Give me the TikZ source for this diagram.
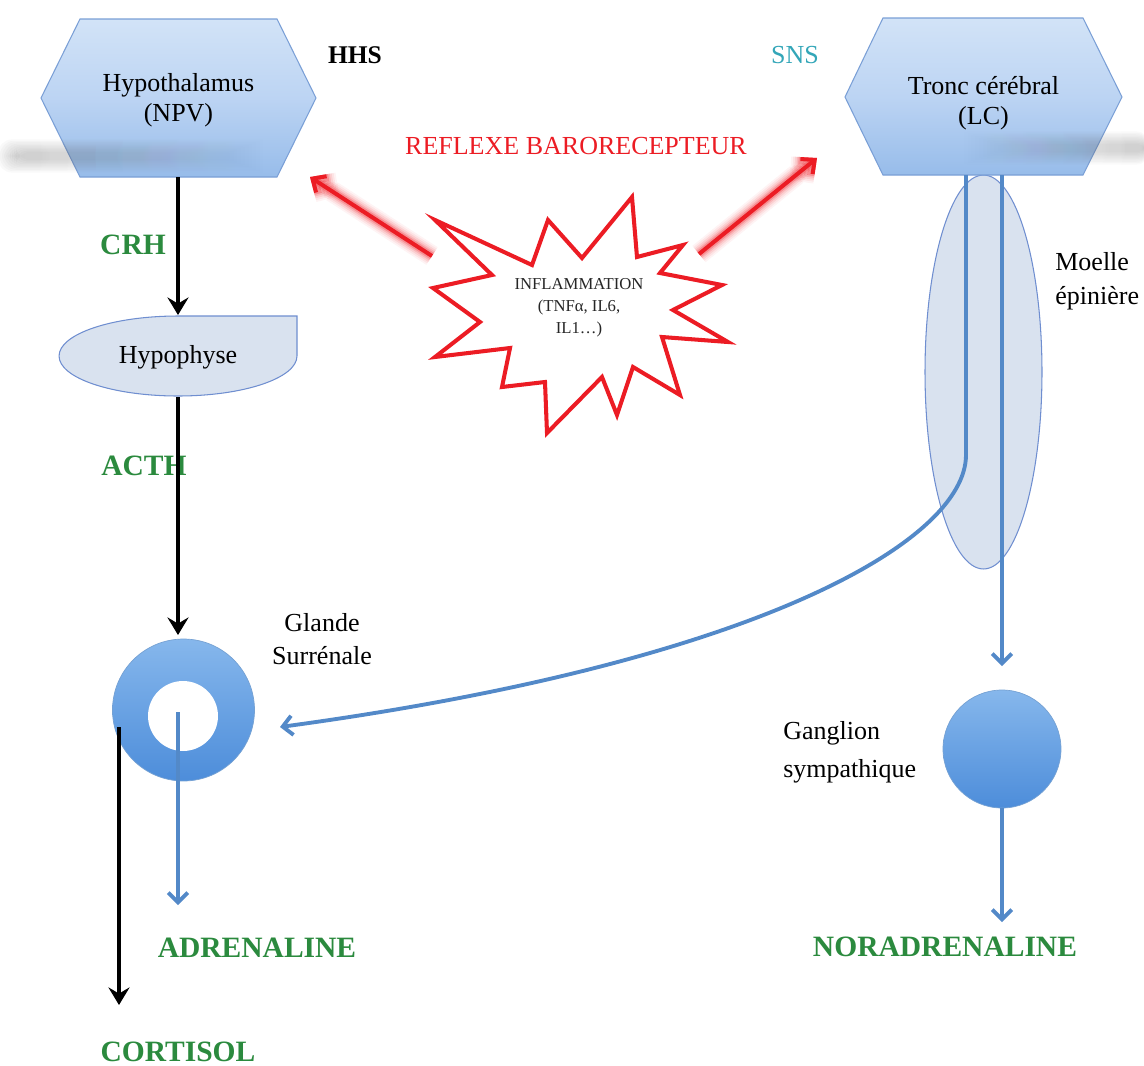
\documentclass[tikz,border=0pt]{standalone}
\usepackage{fontspec}
\setmainfont{Liberation Serif}
\usetikzlibrary{arrows.meta,fadings}
\definecolor{hexT}{HTML}{D2E3F7}
\definecolor{hexM}{HTML}{BCD4F3}
\definecolor{hexB}{HTML}{97BCEA}
\definecolor{hexD}{HTML}{7A9FD6}
\definecolor{pale}{HTML}{D9E2EF}
\definecolor{paleD}{HTML}{6F8ED0}
\definecolor{cblue}{HTML}{5389C8}
\definecolor{ringT}{HTML}{86B7EC}
\definecolor{ringB}{HTML}{4D8DDA}
\definecolor{cgreen}{HTML}{2B8A3E}
\definecolor{cred}{HTML}{EC1C24}
\definecolor{cteal}{HTML}{33A6B8}
\tikzfading[name=fadeR, left color=transparent!0, right color=transparent!100]
\tikzfading[name=fadeL, left color=transparent!100, right color=transparent!0]
\begin{document}
\begin{tikzpicture}[x=0.02cm,y=-0.02cm,
  lbl/.style={font=\fontsize{14.8}{17}\selectfont, align=center, inner sep=0pt},
  grn/.style={font=\fontsize{16.8}{18}\selectfont\bfseries, text=cgreen, inner sep=0pt},
  hexa/.style={draw=hexD, line width=0.6pt, top color=hexT, bottom color=hexB, middle color=hexM},
  blk/.style={line width=2.8pt, -{Stealth[length=10pt,width=12pt,inset=3.5pt]}},
  blu/.style={line width=2.2pt, draw=cblue, -{Straight Barb[length=5.5pt,width=11pt]}},
  redarr/.style={draw=cred, line width=2.3pt, -{Straight Barb[length=6pt,width=11pt]}},
  glow/.style={draw=cred, -{Straight Barb[length=6pt,width=11pt]}},
  shad/.style={fill=black!60, rounded corners=8pt}]
\useasboundingbox (0,0) rectangle (1144,1066);

% spinal cord ellipse (behind)
\path[fill=pale, draw=paleD, line width=0.6pt] (983.5,372) ellipse [x radius=1.17cm, y radius=3.94cm];
\coordinate (moelle) at (983.5,372);

% hexagons
\path[hexa] (80,19) -- (277,19) -- (316,98) -- (277,177) -- (80,177) -- (41,98) -- cycle;
\path[hexa] (883,18) -- (1083,18) -- (1122,97) -- (1083,175) -- (883,175) -- (845,97) -- cycle;

% soft grey shadows
\foreach \d in {0,2,...,18}{
  \fill[shad, opacity=0.04, path fading=fadeR] (16-\d,152-\d*0.7) rectangle (240+\d*2,160+\d*0.7);
  \fill[shad, opacity=0.04, path fading=fadeL] (990-\d*2,144-\d*0.7) rectangle (1150,152+\d*0.7);
}

\node[lbl] (hyp) at (178.5,100) {Hypothalamus\\(NPV)};
\node[lbl] (tronc) at (983.5,103) {Tronc cérébral\\(LC)};
\node[font=\fontsize{14.5}{17}\selectfont\bfseries, inner sep=0pt] (hhs) at (355,55) {HHS};
\node[font=\fontsize{14.8}{17}\selectfont, text=cteal, inner sep=0pt] (sns) at (795,55) {SNS};
\node[font=\fontsize{14.8}{17}\selectfont, text=cred, inner sep=0pt] (reflexe) at (576,146) {REFLEXE BARORECEPTEUR};

% red glowing arrows
\coordinate (lT) at (432,256); \coordinate (lH) at (310,177);
\coordinate (rT) at (699,254); \coordinate (rH) at (817,158);
\foreach \w/\o in {12/0.05,10/0.07,8/0.10,6/0.15,4.2/0.25}{
  \draw[glow, line width=\w pt, opacity=\o] (lT) -- (lH);
  \draw[glow, line width=\w pt, opacity=\o] (rT) -- (rH);
}
\draw[redarr] (lT) -- (lH);
\draw[redarr] (rT) -- (rH);

% star
\path[draw=cred, fill=white, line width=2.3pt, line join=miter, miter limit=10]
 (435,220) -- (532,265) -- (548,220) -- (582,258) -- (632,197) -- (637,257) -- (683,245) -- (660,273)
 -- (722,285) -- (673,310) -- (728,342) -- (662,337) -- (680,395) -- (633,367) -- (617,415) -- (602,377)
 -- (547,433) -- (545,382) -- (502,387) -- (510,348) -- (435,357) -- (480,322) -- (433,288) -- (492,275) -- cycle;
\node[font=\fontsize{9.5}{12.5}\selectfont, align=center, inner sep=0pt, text=black!85] (infl) at (579,308) {INFLAMMATION\\(TNFα, IL6,\\IL1…)};

% left column
\node[grn] (crh) at (133,245) {CRH};
\path[fill=pale, draw=paleD, line width=0.6pt] (297,316) -- (297,356) arc[start angle=0, end angle=-180, x radius=2.38cm, y radius=0.8cm]
  arc[start angle=180, end angle=90, x radius=2.38cm, y radius=0.8cm] -- cycle;
\node[lbl] (hypophyse) at (178,357) {Hypophyse};
\coordinate (hypB) at (178,177);
\coordinate (hypoT) at (178,315);
\draw[blk] (hypB) -- (hypoT);

\node[grn] (acth) at (144,466) {ACTH};
\coordinate (hypoB) at (178,397);
\coordinate (glT) at (178,635);
\draw[blk] (hypoB) -- (glT);

% adrenal gland ring
\shade[top color=ringT, bottom color=ringB, draw=cblue!80, line width=0.4pt] (183.5,710) circle[radius=1.42cm];
\path[fill=white] (183,716) circle[radius=0.7cm];
\coordinate (gland) at (183.5,710);
\node[font=\fontsize{14.8}{18.7}\selectfont, align=center, inner sep=0pt] (glande) at (322,639) {Glande\\Surrénale};

\coordinate (cortS) at (119,729);
\coordinate (cortE) at (119,1005);
\draw[blk, line cap=rect] (cortS) -- (cortE);
\node[grn] (cortisol) at (178,1052) {CORTISOL};

\coordinate (adrS) at (178,712);
\coordinate (adrE) at (178,905);
\draw[blu] (adrS) -- (adrE);
\node[grn] (adrenaline) at (257,948) {ADRENALINE};

% right column
\node[font=\fontsize{14.8}{19.3}\selectfont, align=left, anchor=west, inner sep=0pt] (moelleL) at (1055,281) {Moelle\\épinière};
\coordinate (aS) at (966,175);
\coordinate (aM) at (966,455);
\coordinate (glR) at (280,727);
\draw[blu] (aS) -- (aM) .. controls (966,540) and (760,662) .. (glR);
\coordinate (bS) at (1002,175);
\coordinate (gangT) at (1002,666);
\draw[blu] (bS) -- (gangT);

\shade[top color=ringT, bottom color=ringB, draw=cblue!80, line width=0.4pt] (1002,749) circle[radius=1.18cm];
\coordinate (gang) at (1002,749);
\node[font=\fontsize{14.8}{21.5}\selectfont, align=left, anchor=west, inner sep=0pt] (ganglion) at (783,752) {Ganglion\\sympathique};
\coordinate (gangB) at (1002,808);
\coordinate (norE) at (1002,922);
\draw[blu] (gangB) -- (norE);
\node[grn] (noradr) at (945,947) {NORADRENALINE};
\end{tikzpicture}
\end{document}
